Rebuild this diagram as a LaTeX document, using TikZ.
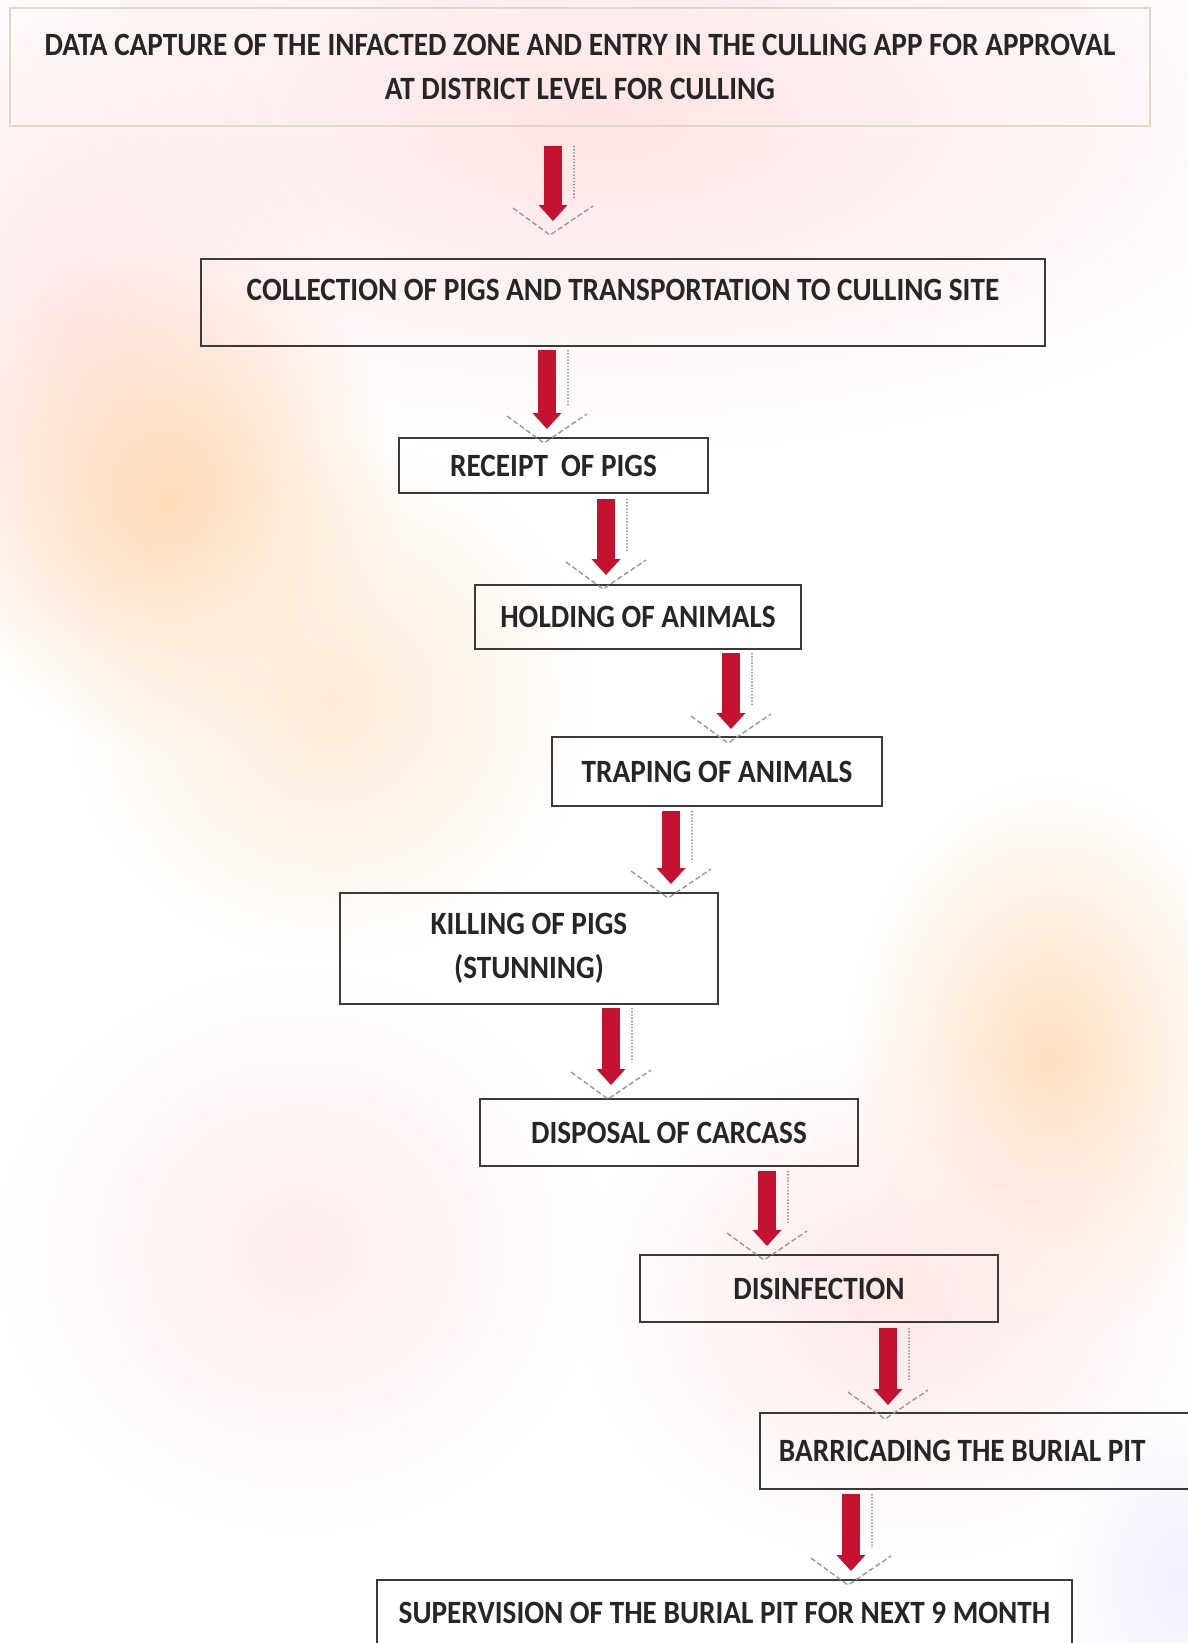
\documentclass[tikz,border=0pt]{standalone}
\usepackage{fontspec}
\setmainfont{Carlito}[FakeStretch=0.9]
\usetikzlibrary{arrows.meta,calc,fadings}
\definecolor{arrowred}{RGB}{196,18,48}
\definecolor{boxline}{RGB}{58,58,58}
\definecolor{topline}{RGB}{222,216,198}
\tikzfading[name=blob, inner color=transparent!0, outer color=transparent!100]

\begin{document}
\begin{tikzpicture}[x=0.02cm, y=-0.02cm,
    stepbox/.style = {draw=boxline, line width=1.1pt, align=center,
                inner sep=0pt, text=black!85,
                font=\bfseries\fontsize{18.5}{25}\selectfont},
    flow/.style = {arrowred, line width=10pt,
                -{Triangle[width=0.56cm,length=0.32cm]}},
    shadowline/.style = {black!55, line width=0.8pt, densely dotted},
    chevron/.style = {black!40, line width=0.8pt, dash pattern=on 3pt off 1.5pt}
                    ]
        \useasboundingbox (0,0) rectangle (1187,1643);
        % watercolour background
        \fill[white] (0,0) rectangle (1187,1643);
        \fill[red!10, path fading=blob] (600,120) ellipse [x radius=750, y radius=330];
        \fill[red!9, path fading=blob] (80,330) ellipse [x radius=260, y radius=320];
        \fill[orange!28, path fading=blob] (170,500) ellipse [x radius=230, y radius=250];
        \fill[orange!16, path fading=blob] (330,700) ellipse [x radius=260, y radius=260];
        \fill[orange!24, path fading=blob] (1050,1060) ellipse [x radius=200, y radius=280];
        \fill[red!9, path fading=blob] (900,1300) ellipse [x radius=320, y radius=260];
        \fill[red!7, path fading=blob] (300,1250) ellipse [x radius=300, y radius=280];
        \fill[blue!6, path fading=blob] (1180,1580) ellipse [x radius=120, y radius=180];
        % steps
        \node[stepbox, draw=topline, minimum width=1140*0.02cm, minimum height=118*0.02cm]
            (top) at (580,67) {DATA CAPTURE OF THE INFACTED ZONE AND ENTRY IN THE CULLING APP FOR APPROVAL\\AT DISTRICT LEVEL FOR CULLING};
        \node[stepbox, minimum width=844*0.02cm, minimum height=87*0.02cm, text depth=0.5cm]
            (collect) at (623,302.5) {COLLECTION OF PIGS AND TRANSPORTATION TO CULLING SITE};
        \node[stepbox, minimum width=309*0.02cm, minimum height=55*0.02cm]
            (receipt) at (553.5,465.5) {RECEIPT \ OF PIGS};
        \node[stepbox, minimum width=326*0.02cm, minimum height=64*0.02cm]
            (holding) at (638,617) {HOLDING OF ANIMALS};
        \node[stepbox, minimum width=330*0.02cm, minimum height=69*0.02cm]
            (traping) at (717,771.5) {TRAPING OF ANIMALS};
        \node[stepbox, minimum width=378*0.02cm, minimum height=111*0.02cm]
            (killing) at (529,948.5) {KILLING OF PIGS\\(STUNNING)};
        \node[stepbox, minimum width=378*0.02cm, minimum height=67*0.02cm]
            (disposal) at (669,1132.5) {DISPOSAL OF CARCASS};
        \node[stepbox, minimum width=358*0.02cm, minimum height=67*0.02cm]
            (disinfect) at (819,1288.5) {DISINFECTION};
        \node[stepbox, anchor=west, align=flush left, text width=7.96cm, inner xsep=0.38cm,
            minimum height=76*0.02cm] (barricade) at (759,1451) {BARRICADING THE BURIAL PIT};
        \node[stepbox, minimum width=695*0.02cm, minimum height=80*0.02cm, text depth=0.3cm]
            (supervise) at (724.5,1620) {SUPERVISION OF THE BURIAL PIT FOR NEXT 9 MONTH};
        % arrows between steps
        \foreach \a/\b/\x/\ga/\gb in {top/collect/553/19/37, collect/receipt/547/3/8,
                receipt/holding/606/5/9, holding/traping/731/3/7, traping/killing/671/4/8,
                killing/disposal/611/3/13, disposal/disinfect/767/4/8,
                disinfect/barricade/888/5/7, barricade/supervise/851/4/8}{
            \coordinate (s) at ($(\a.south -| \x,0)+(0,\ga)$);
            \coordinate (e) at ($(\b.north -| \x,0)-(0,\gb)$);
            \draw[shadowline] ($(s)+(21,0)$) -- ($(s)!0.7!(e)+(21,0)$);
            \draw[chevron] ($(e)+(-40,-13)$) -- ($(e)+(-3,14)$) -- ($(e)+(40,-15)$);
            \draw[flow] (s) -- (e);
        }
    \end{tikzpicture}
\end{document}
